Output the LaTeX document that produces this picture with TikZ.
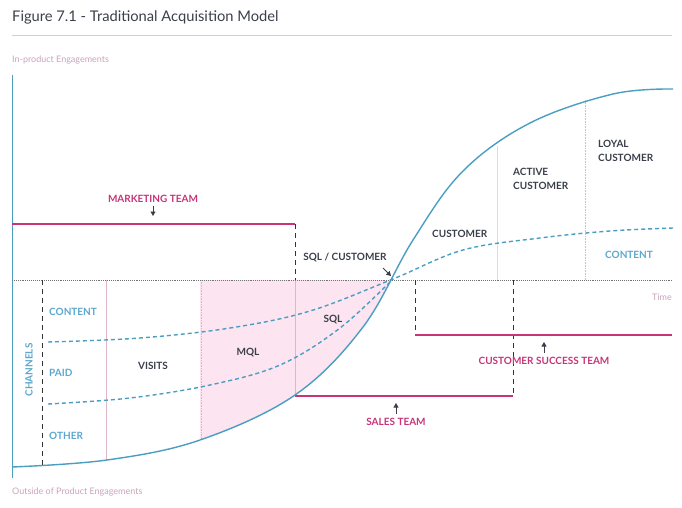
\documentclass[tikz,border=0pt]{standalone}
\usepackage{fontspec}
\setmainfont{Lato}
\usetikzlibrary{arrows.meta}
\definecolor{tealc}{HTML}{4A9EC2}
\definecolor{tealtxt}{HTML}{5BA8CC}
\definecolor{mag}{HTML}{C73478}
\definecolor{dark}{HTML}{3A3F4A}
\definecolor{pinkfill}{HTML}{FCE4F0}
\definecolor{pinkline}{HTML}{DDB6CC}
\definecolor{greyline}{HTML}{D8DCE4}
\definecolor{axtxt}{HTML}{C9A3BA}
\tikzset{
  lbl/.style={font=\bfseries\fontsize{10}{11}\selectfont, text=dark, inner sep=0pt, align=left},
  tlbl/.style={lbl, text=tealtxt},
  mlbl/.style={lbl, text=mag},
  team/.style={draw=mag, line width=1.6pt},
  bdash/.style={draw=black!80, dash pattern=on 5pt off 4pt, line width=0.8pt},
  pinkv/.style={draw=pinkline, line width=0.6pt},
  curve/.style={draw=tealc, line width=1.4pt},
  dcurve/.style={draw=tealc, line width=1.4pt, dash pattern=on 4pt off 3pt},
  arr/.style={draw=dark, line width=0.9pt, -{Triangle[width=5pt,length=4.5pt]}},
  axlbl/.style={font=\fontsize{9}{10}\selectfont, text=axtxt, inner sep=0pt, anchor=west},
}
\newcommand{\scurve}{plot[smooth, tension=0.6] coordinates {(12,467) (107,460) (200,440) (295,395) (363,327) (413,240) (463,171) (530,123) (613,94) (673,89)}}
\begin{document}
\begin{tikzpicture}[x=1pt,y=-1pt]
\useasboundingbox (0,0) rectangle (682,508);
% shaded region
\begin{scope}
\clip (200,280) rectangle (400,480);
\fill[pinkfill] \scurve -- (673,0) -- (12,0) -- cycle;
\end{scope}
% title
\node[anchor=west, inner sep=0pt, font=\fontsize{14.7}{16}\selectfont, text=dark] (title) at (12,17) {Figure 7.1 - Traditional Acquisition Model};
\coordinate (tl) at (12,35); \coordinate (tr) at (672,35);
\draw[draw=pinkline!80, line width=0.8pt] (tl) -- (tr);
\node[axlbl] (inprod) at (12,60) {In-product Engagements};
\node[axlbl] (outside) at (12,492) {Outside of Product Engagements};
\node[axlbl, anchor=east] (time) at (672,297) {Time};
% axes
\coordinate (yt) at (12,75); \coordinate (yb) at (12,478);
\draw[draw=tealc, line width=1pt] (yt) -- (yb);
\coordinate (xl) at (12,280); \coordinate (xr) at (672,280);
% thin verticals
\coordinate (v106t) at (106,280); \coordinate (v106b) at (106,460);
\draw[pinkv] (v106t) -- (v106b);
\coordinate (v201t) at (201,280); \coordinate (v201b) at (201,440);
\draw[pinkv, densely dotted] (v201t) -- (v201b);
\coordinate (v295t) at (295,280); \coordinate (v295b) at (295,396);
\draw[pinkv] (v295t) -- (v295b);
\coordinate (v497t) at (497,146); \coordinate (v497b) at (497,280);
\draw[draw=greyline, line width=0.8pt] (v497t) -- (v497b);
\coordinate (v585t) at (585,100); \coordinate (v585b) at (585,280);
\draw[pinkv, densely dotted] (v585t) -- (v585b);
% horizontal axis
\draw[draw=black!55, line width=0.9pt, densely dotted] (xl) -- (xr);
% black dashed verticals
\coordinate (d42t) at (42,280); \coordinate (d42b) at (42,467);
\draw[bdash] (d42t) -- (d42b);
\coordinate (d295t) at (295,224); \coordinate (d295b) at (295,280);
\draw[bdash] (d295t) -- (d295b);
\coordinate (d415t) at (415,280); \coordinate (d415b) at (415,335);
\draw[bdash] (d415t) -- (d415b);
\coordinate (d513t) at (513,280); \coordinate (d513b) at (513,396);
\draw[bdash] (d513t) -- (d513b);
% team lines
\coordinate (mkl) at (12,224); \coordinate (mkr) at (295,224);
\draw[team] (mkl) -- (mkr);
\coordinate (sal) at (295,396); \coordinate (sar) at (513,396);
\draw[team] (sal) -- (sar);
\coordinate (csl) at (415,335); \coordinate (csr) at (672,335);
\draw[team] (csl) -- (csr);
% curves
\draw[dcurve] plot[smooth, tension=0.6] coordinates {(48,342) (140,338) (230,328) (310,311) (393,279) (463,250) (540,238) (610,231) (673,228)};
\draw[dcurve] plot[smooth, tension=0.6] coordinates {(48,404) (130,398) (210,385) (280,365) (340,328) (393,279)};
\draw[curve] \scurve;
% team labels and arrows
\node[mlbl, anchor=center] (mkt) at (153,199) {MARKETING TEAM};
\coordinate (mka1) at (153,206); \coordinate (mka2) at (153,216);
\draw[arr] (mka1) -- (mka2);
\node[mlbl, anchor=center] (sales) at (396,422) {SALES TEAM};
\coordinate (saa1) at (396,414); \coordinate (saa2) at (396,403);
\draw[arr] (saa1) -- (saa2);
\node[mlbl, anchor=center] (cst) at (544,361) {CUSTOMER SUCCESS TEAM};
\coordinate (csa1) at (544,353); \coordinate (csa2) at (544,342);
\draw[arr] (csa1) -- (csa2);
\node[lbl, anchor=center] (sqlc) at (345,257) {SQL / CUSTOMER};
\coordinate (sqa1) at (383,268); \coordinate (sqa2) at (391,276);
\draw[arr] (sqa1) -- (sqa2);
% stage labels
\node[lbl, anchor=center] (visits) at (153,366) {VISITS};
\node[lbl, anchor=center] (mql) at (248,353) {MQL};
\node[lbl, anchor=center] (sql) at (333,320) {SQL};
\node[lbl, anchor=west] (cust) at (432,234) {CUSTOMER};
\node[lbl, anchor=west, font=\bfseries\fontsize{10}{14}\selectfont] (active) at (513,179) {ACTIVE\\CUSTOMER};
\node[lbl, anchor=west, font=\bfseries\fontsize{10}{14}\selectfont] (loyal) at (598,151) {LOYAL\\CUSTOMER};
\node[tlbl, anchor=west] (content2) at (605,255) {CONTENT};
% channel labels
\node[tlbl, anchor=west] (content) at (49,312) {CONTENT};
\node[tlbl, anchor=west] (paid) at (49,373) {PAID};
\node[tlbl, anchor=west] (other) at (49,436) {OTHER};
\node[tlbl, rotate=90, anchor=center] (chan) at (29,370) {CHANNELS};
\end{tikzpicture}
\end{document}
